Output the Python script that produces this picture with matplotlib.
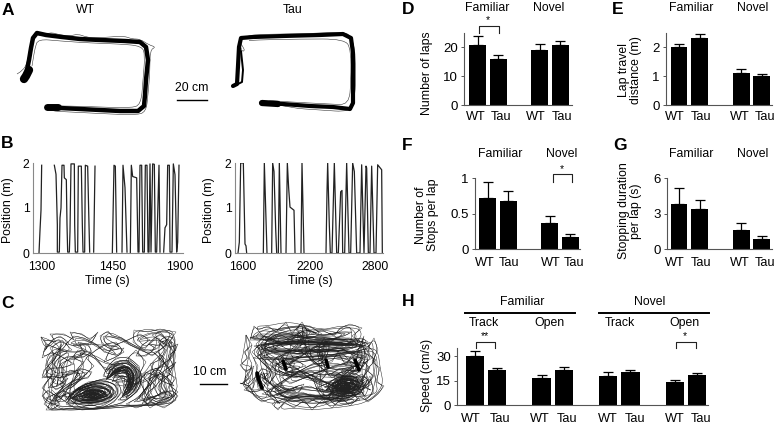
import numpy as np
import matplotlib
matplotlib.use('Agg')
import matplotlib.pyplot as plt
from matplotlib.path import Path
from matplotlib.patches import PathPatch

plt.rcParams['font.family'] = ['Liberation Sans', 'DejaVu Sans']
plt.rcParams['font.size'] = 8.8

W, H = 777, 425
GROUPS = ['WT', 'Tau', 'WT', 'Tau']

# bar values (mean, top of error bar)
laps_mean = [21, 16, 19, 21]
laps_top = [24, 17.2, 21.2, 22.2]
travel_mean = [2.03, 2.33, 1.12, 1.02]
travel_top = [2.11, 2.46, 1.25, 1.07]
stops_mean = [0.72, 0.68, 0.37, 0.17]
stops_top = [0.94, 0.81, 0.47, 0.21]
stopdur_mean = [3.83, 3.4, 1.63, 0.82]
stopdur_top = [5.13, 4.1, 2.2, 1.07]
speed_mean = [30, 21.2, 16.4, 21.2, 17.9, 20.1, 14.4, 18.3]
speed_top = [33.3, 22.8, 18.7, 23.4, 20.1, 21.6, 15.6, 19.9]

# panel B, x in thirds of a pixel along the axis, y in metres
b_wt_x = [117, 120, 123, 125, None,
          163, 168, 172, 172, 178, 180, 183, 186, 192, 193, 199, 201, 203, 208, 210, 213, 223, 224, 226, 233, 235, 244, 247, 249,
          254, 256, 263, 267, 269, None, 281, 285, None,
          337, 342, 346, 350, None, 366, 369, 375, 381, None, 391, 394, 398, 410, 414, 417, 420, 425, 428, 433, 436, 441, 444,
          447, 450, 453, 458, 463, 466, 470, 477, 480, None, 491, 495, 500, 503, 508, 510, 516, 520, 525, 530, 533, 537]
b_wt_y = [0, 0.5, 0.95, 1.95, None,
          1.95, 1.75, 0.63, 0.02, 0.02, 0.78, 1.0, 1.95, 1.95, 1.67, 1.63, 0.63, 0.02, 0.02, 0.48, 1.98, 1.98, 0.63, 0.02, 0.02, 1.93, 1.93, 0.63, 0.02,
          0.02, 1.95, 1.93, 0.63, 0.02, None, 0.02, 1.93, None,
          0, 1.95, 1.93, 0.02, None, 0.02, 1.95, 1.45, 0.02, None, 0, 1.95, 1.7, 1.67, 0.02, 0.02, 1.95, 1.95, 0.02, 0.02, 1.95, 1.95, 0.02,
          0.02, 1.98, 0.02, 1.98, 1.97, 0.02, 0.02, 1.95, 0.02, None, 0.02, 0.56, 0.63, 1.95, 1.95, 0.02, 0.02, 1.98, 1.74, 0.02, 0.24, 1.95]
b_tau_x = [714, 718, 722, 730, 735, 738, 740, None,
           790, 793, 801, None, 815, 818, 822, 827, 830, None, 835, 838, 843, None, 858, 862, 866, 870, 882, 885, None, 903, 906, 912, None,
           978, 981, 983, 988, 991, 996, 1003, 1010, 1015, 1022, 1026, 1028, 1034, 1040, 1047, 1052, 1058, 1063, 1070, 1080, 1085, 1092, 1098, 1100, 1105,
           1110, 1115, 1122, 1128, 1133, 1145, 1147]
b_tau_y = [0, 0.24, 2, 2, 0.2, 0.16, 0, None,
           0, 2, 0, None, 0, 2, 1.81, 0.54, 0, None, 0, 2, 0, None, 0, 2, 1.44, 1.02, 0.95, 0, None, 0, 2, 0, None,
           0, 1.36, 2, 0.61, 0, 0, 2, 0, 0, 1.36, 1.39, 0, 0, 2, 0, 0, 2, 1.81, 0, 0, 1.96, 0, 1.93, 1.89, 0,
           0, 1.93, 0, 0, 1.96, 1.85, 0]

# panel A tracks, image coordinates
a_wt_track = [(27, 70), (29, 60), (31, 48), (33, 38), (37, 33), (46, 35), (62, 37), (80, 39), (100, 40), (125, 41),
              (140, 42), (146, 47), (148, 60), (146, 80), (145, 95), (144, 106), (138, 111), (120, 111), (100, 110),
              (80, 109), (60, 108), (48, 107)]
a_wt_blob = [(24, 79), (26, 76), (29, 70)]
a_wt_start = [(47, 107), (58, 107)]
a_wt_hair = [(17, 74), (24, 70), (28, 60), (30, 45), (36, 29), (38, 37), (50, 32), (60, 35), (70, 36), (78, 34), (86, 37), (95, 38), (110, 37),
             (124, 36), (132, 39), (140, 39), (149, 45), (156, 47), (150, 50), (150, 70), (148, 95), (146, 112), (136, 115), (110, 114), (90, 113),
             (70, 112), (50, 111), (44, 106), (70, 106), (100, 107), (130, 108), (141, 105), (143, 80), (145, 55), (142, 46), (120, 44), (90, 43),
             (60, 41), (38, 39), (35, 48), (33, 60), (31, 72)]
a_tau_track = [(233, 86), (237, 84), (238, 66), (239, 47), (241, 38), (253, 37), (283, 36), (320, 35), (343, 34), (351, 38),
               (353, 53), (353, 87), (353, 103), (350, 109), (333, 107), (310, 106), (283, 104), (266, 103)]
a_tau_second = [(241, 51), (243, 70), (242, 82), (236, 85)]
a_tau_start = [(262, 103), (278, 104)]
a_tau_hair = [(240, 43), (246, 50), (241, 52), (240, 36), (270, 34), (300, 34), (340, 32), (352, 35), (356, 60), (355, 100), (350, 112),
              (320, 110), (290, 108), (262, 100), (290, 102), (330, 104), (349, 105), (351, 80), (351, 50), (345, 39), (300, 39), (255, 40),
              (243, 41)]

# panel C open field paths, image coordinates
c_wt_path = [(41, 337), (48, 345), (44, 352), (52, 340), (60, 336), (68, 342), (62, 350), (50, 356), (46, 365), (55, 372), (48, 380),
             (42, 388), (50, 395), (44, 404), (52, 410), (60, 404), (54, 396), (64, 390), (72, 396), (66, 404), (78, 409), (90, 404),
             (102, 408), (114, 402), (122, 392), (118, 382), (106, 378), (92, 382), (78, 388), (68, 398), (76, 404), (92, 402),
             (108, 401), (116, 392), (108, 384), (92, 384), (76, 390), (70, 398), (84, 403), (100, 402), (112, 396), (106, 388),
             (90, 386), (78, 392), (84, 400), (98, 398), (106, 392), (94, 388), (82, 393), (88, 399), (101, 396), (96, 390), (85, 394),
             (93, 400), (108, 396), (112, 388), (100, 382), (84, 384), (72, 392), (66, 400), (74, 392), (88, 382), (104, 380),
             (118, 386), (118, 396), (104, 404), (86, 406), (70, 402), (64, 394), (70, 386), (82, 378), (76, 370), (84, 362), (72, 358), (78, 350),
             (90, 352), (98, 360), (106, 372), (112, 366), (120, 361), (130, 360), (138, 368), (140, 380), (136, 390), (126, 398),
             (130, 390), (135, 380), (131, 368), (120, 364), (110, 370), (106, 380), (114, 373), (124, 367), (132, 374), (134, 384),
             (126, 394), (118, 400), (126, 400), (137, 392), (142, 380), (139, 366), (128, 357), (116, 358), (108, 366), (103, 376),
             (110, 378), (118, 370), (128, 366), (135, 376), (130, 388), (122, 396), (130, 382), (126, 372), (116, 374), (112, 382),
             (122, 378), (128, 380), (124, 388), (136, 386), (146, 372), (156, 376), (150, 364), (160, 360), (166, 350), (158, 342), (166, 336),
             (174, 338), (176, 350), (168, 356), (174, 366), (166, 372), (176, 378), (170, 386), (178, 392), (170, 400), (160, 404),
             (150, 398), (142, 404), (148, 392), (156, 386), (148, 378), (156, 368), (164, 374), (160, 386), (168, 396), (160, 398), (154, 388),
             (162, 378), (172, 374), (166, 364), (174, 352), (168, 344), (176, 332), (160, 329), (148, 332), (134, 330), (133, 342), (144, 350),
             (152, 340), (160, 334), (170, 342), (160, 350), (152, 356), (142, 350), (130, 345), (122, 338), (112, 336), (108, 331), (100, 336), (102, 344),
             (112, 350), (124, 348), (118, 356), (104, 352), (96, 344), (84, 338), (74, 336), (66, 344), (76, 346), (88, 344), (92, 352),
             (82, 358), (68, 356), (58, 362), (66, 372), (58, 380), (66, 384), (56, 390), (50, 384), (60, 372), (52, 362), (60, 352),
             (72, 350), (62, 340), (50, 348), (56, 358), (44, 370), (42, 378), (52, 376), (62, 378), (72, 374), (80, 368), (92, 372), (88, 378), (74, 380),
             (62, 388), (52, 400), (46, 410), (60, 410), (70, 408), (82, 410), (100, 409), (120, 405), (140, 406), (156, 405), (172, 403),
             (178, 396), (172, 390), (160, 394), (146, 400), (134, 402), (144, 394), (150, 384), (142, 376), (150, 370), (166, 366), (158, 356), (150, 350)]
c_wt_extra = [(44, 340), (56, 342), (50, 334), (64, 334), (74, 340), (70, 332), (82, 334), (90, 340), (98, 332), (90, 345), (78, 342), (84, 352),
              (66, 352), (56, 348), (46, 344), (42, 358), (52, 352), (64, 358), (74, 364), (62, 368), (50, 368), (44, 376), (56, 380), (48, 388),
              (58, 386), (68, 378), (60, 392), (46, 398), (56, 402), (66, 394), (60, 384), (70, 370), (80, 374), (72, 382), (66, 390), (74, 386),
              (84, 376), (94, 366), (86, 358), (96, 350), (106, 344), (116, 342), (124, 352), (114, 358), (104, 362), (112, 346), (128, 340),
              (140, 334), (150, 340), (142, 345), (136, 356), (146, 356), (156, 348), (148, 344), (162, 346), (172, 334), (164, 330), (152, 335),
              (170, 348), (178, 344), (172, 358), (160, 366), (154, 376), (164, 382), (174, 386), (168, 378), (158, 372), (148, 386), (140, 396),
              (150, 408), (162, 400), (174, 396), (166, 390), (156, 396), (148, 404), (136, 408), (126, 404), (138, 398), (146, 388), (156, 380),
              (166, 360), (158, 352), (170, 372), (176, 362), (168, 368), (160, 374), (170, 382), (176, 400), (164, 408), (150, 402), (142, 386),
              (138, 376), (146, 362), (136, 350), (126, 360), (134, 366), (142, 374), (140, 388), (132, 396), (122, 403), (110, 406), (94, 409),
              (76, 406), (62, 407), (50, 403), (42, 396), (48, 390), (58, 398), (70, 392), (78, 398), (72, 406), (60, 398), (52, 390)]
c_wt_loops = [(72, 398), (80, 390), (96, 387), (110, 390), (112, 397), (98, 401), (80, 401), (72, 398), (86, 391), (102, 390), (108, 396),
              (92, 399), (78, 396), (88, 389), (104, 392), (96, 398), (84, 397), (94, 392), (100, 395), (88, 394)]
c_wt_arc = [(107, 379), (110, 370), (118, 364), (128, 363), (135, 371), (137, 382), (130, 392), (122, 397), (128, 386), (132, 376),
            (126, 367), (116, 368), (110, 376), (114, 372), (122, 366), (130, 369), (134, 378), (127, 390)]
c_tau_path = [(246, 335), (252, 345), (244, 352), (248, 358), (240, 365), (246, 372), (254, 366), (250, 378), (242, 384), (240, 383), (250, 386), (254, 396),
              (262, 402), (272, 398), (280, 404), (270, 392), (258, 388), (256, 376), (262, 368), (270, 372), (262, 380), (268, 386), (274, 376),
              (266, 362), (256, 352), (262, 344), (272, 350), (284, 342), (296, 348), (310, 340), (324, 346), (340, 342), (350, 346), (360, 342),
              (352, 336), (362, 328), (350, 324), (340, 328), (334, 336), (322, 330), (312, 334), (300, 324), (292, 334), (286, 322),
              (276, 332), (268, 326), (258, 330), (254, 326), (250, 340), (266, 340), (282, 338), (298, 342), (316, 342), (334, 342),
              (354, 344), (366, 346), (346, 348), (326, 350), (304, 352), (284, 350), (264, 352), (254, 358), (272, 360), (294, 358),
              (316, 356), (336, 356), (356, 352), (368, 348), (374, 338), (378, 350), (372, 362), (380, 368), (376, 382), (384, 386), (378, 394),
              (368, 402), (360, 396), (350, 406), (342, 398), (332, 408), (322, 400), (312, 410), (304, 400), (294, 408), (284, 402), (278, 410),
              (272, 404), (290, 396), (310, 394), (328, 398), (348, 396), (364, 394), (352, 388), (332, 392), (316, 388), (330, 382), (346, 384),
              (360, 380), (344, 376), (328, 376), (340, 368), (356, 372), (364, 366), (350, 362), (334, 366), (318, 372), (304, 378), (290, 384), (280, 376),
              (292, 370), (306, 366), (296, 360), (284, 366), (276, 358), (288, 352), (300, 348), (304, 338), (296, 330), (302, 322), (308, 332), (304, 346),
              (310, 360), (318, 366), (326, 358), (330, 346), (324, 338), (318, 348), (322, 362), (328, 372), (320, 382), (312, 376), (318, 392), (326, 402),
              (334, 390), (340, 378), (350, 370), (362, 360), (370, 368), (362, 378), (356, 390), (364, 386), (370, 376), (374, 392), (366, 400),
              (358, 384), (346, 392), (338, 384), (348, 378), (358, 386), (352, 394), (340, 392), (332, 386), (344, 382), (352, 386), (342, 396), (330, 394),
              (336, 378), (350, 376), (360, 372), (366, 356), (362, 344), (364, 336), (358, 350), (356, 364), (352, 354), (346, 366), (338, 352),
              (332, 362), (312, 364), (298, 372), (284, 380), (274, 388), (262, 394), (276, 396), (292, 388), (304, 384), (298, 394), (284, 392),
              (270, 382), (278, 372), (270, 364), (280, 354), (290, 364), (302, 356), (312, 348), (328, 340), (344, 336), (352, 332), (338, 332),
              (320, 336), (306, 328), (294, 338), (280, 344), (268, 336), (260, 338), (274, 344), (290, 344), (308, 344), (326, 344), (342, 346),
              (356, 340), (370, 344), (368, 354), (376, 360), (366, 370), (374, 376), (368, 384), (360, 392), (350, 400), (336, 402), (320, 396),
              (306, 404), (296, 396), (286, 398), (276, 390), (266, 378), (258, 372), (264, 390), (252, 392), (244, 390), (254, 382), (258, 366), (248, 348)]
c_tau_extra = [(250, 338), (260, 334), (270, 340), (280, 334), (290, 340), (300, 336), (312, 340), (326, 338), (338, 340), (350, 340), (362, 338),
               (368, 342), (356, 346), (340, 345), (322, 343), (304, 341), (286, 342), (268, 344), (254, 346), (262, 350), (276, 352), (292, 350), (306, 354),
               (320, 352), (336, 350), (350, 352), (364, 352), (372, 358), (360, 366), (344, 358), (330, 356), (314, 360), (300, 362), (286, 358),
               (272, 368), (282, 374), (296, 378), (310, 370), (322, 376), (336, 372), (350, 380), (362, 374), (372, 384), (362, 390), (348, 390),
               (336, 394), (322, 392), (310, 386), (298, 388), (288, 392), (276, 384), (268, 396), (280, 398), (294, 402), (308, 398), (322, 404),
               (336, 398), (350, 392), (360, 400), (348, 404), (336, 406), (326, 396), (340, 388), (354, 382), (342, 378), (330, 388), (318, 384),
               (306, 376), (294, 366), (282, 370), (274, 358), (264, 358), (256, 344), (268, 332), (282, 328), (296, 326), (310, 326), (322, 334), (310, 338),
               (296, 336), (284, 332), (272, 336), (262, 346), (274, 354), (290, 354), (306, 348), (322, 354), (338, 346), (354, 356), (368, 360),
               (358, 372), (344, 370), (332, 378), (322, 368), (308, 356), (298, 350), (314, 344), (330, 352), (346, 350), (360, 346), (350, 338),
               (336, 338), (322, 340), (308, 336), (292, 344), (276, 346), (262, 342), (252, 352), (260, 360), (274, 374), (288, 376), (302, 370),
               (316, 378), (328, 384), (342, 390), (356, 394), (344, 400), (330, 400), (316, 398), (302, 392), (290, 400), (278, 394), (268, 388)]
c_tau_dense = [(326, 390), (336, 380), (350, 378), (362, 384), (358, 392), (342, 394), (330, 392), (338, 384), (352, 382), (360, 388), (348, 393),
               (334, 389), (344, 380), (358, 380), (354, 390), (340, 390), (336, 386), (350, 385), (344, 392), (332, 384), (346, 376), (362, 378), (364, 392),
               (350, 396), (334, 396), (326, 384), (340, 376), (356, 376), (360, 386), (344, 388)]
c_tau_blobs = [[(257, 373), (259, 381), (262, 388)], [(283, 361), (286, 369)], [(326, 360), (328, 367)], [(355, 360), (359, 370)]]


def ax_px(left, top, right, bottom):
    # axes placed by image pixel box
    a = fig.add_axes([left / W, 1 - bottom / H, (right - left) / W, (bottom - top) / H])
    a.patch.set_alpha(0)
    for s in ['top', 'right']:
        a.spines[s].set_visible(False)
    for s in ['left', 'bottom']:
        a.spines[s].set_linewidth(0.8)
        a.spines[s].set_color('#555555')
    a.tick_params(length=0, width=0.7, pad=2.5, color='#555555')
    return a


def bars(box, c0, step, pos, labpos, mean, top, ymax, yticks, ylabs, pad):
    a = ax_px(*box)
    lo = np.array(mean)
    hi = np.array(top)
    a.bar(pos, lo, width=0.82, color='black')
    a.errorbar(pos, lo, yerr=[np.zeros(len(lo)), hi - lo], fmt='none', ecolor='black', elinewidth=0.9, capsize=3.6, capthick=0.9)
    a.set_xlim((box[0] - c0) / step, (box[2] - c0) / step)
    a.set_ylim(0, ymax)
    a.set_yticks(yticks, ylabs)
    a.tick_params(axis='y', length=2, direction='out', pad=2.5, labelsize=9.5)
    a.set_xticks(labpos, (GROUPS * 2)[:len(pos)])
    a.tick_params(axis='x', pad=pad, labelsize=9.2)
    return a


fig = plt.figure(figsize=(W / 100, H / 100), dpi=100)
ov = fig.add_axes([0, 0, 1, 1])
ov.set_xlim(0, W)
ov.set_ylim(H, 0)
ov.axis('off')


def put(x, y, s, **kw):
    kw.setdefault('ha', 'center')
    kw.setdefault('va', 'center')
    ov.text(x, y, s, **kw)


def path(pts, **kw):
    xs, ys = zip(*pts)
    ov.plot(xs, ys, color=kw.pop('color', 'black'), solid_joinstyle='round', solid_capstyle='round', **kw)


def curve(pts, lw, color):
    # rounded version of a typed path, the typed points act as curve controls
    verts = [pts[0]]
    codes = [Path.MOVETO]
    for p, q in zip(pts[1:-1], pts[2:]):
        verts += [p, ((p[0] + q[0]) / 2, (p[1] + q[1]) / 2)]
        codes += [Path.CURVE3, Path.CURVE3]
    ov.add_patch(PathPatch(Path(verts, codes), fill=False, lw=lw, edgecolor=color))


def mesh(pts, lw=0.35, color='#222222'):
    # the path drawn rounded and straight, then its points again in wider steps to get the density
    curve(pts, lw, color)
    path(pts, lw=lw * 0.8, color=color)
    curve(pts[::2], lw, color)
    curve(pts[1::2], lw, color)
    curve(pts[::3], lw, color)


# A
curve(a_wt_hair, 0.4, '#333333')
path(a_wt_track, lw=3.2)
path(a_wt_blob, lw=6)
path(a_wt_start, lw=5)
curve(a_tau_hair, 0.4, '#333333')
path(a_tau_track, lw=3)
path(a_tau_second, lw=1.4)
path(a_tau_start, lw=4.5)
put(85, 10, 'WT')
put(293, 10, 'Tau')
put(192, 88, '20 cm')
ov.plot([177, 207], [100, 100], color='black', lw=1)

# B
ax = ax_px(33, 163, 183, 253)
ax.plot(b_wt_x, b_wt_y, color='#222222', lw=0.9)
ax.set_xlim(99, 549)
ax.set_ylim(0, 2)
ax.set_yticks([0, 1, 2])
ax.set_xticks([125, 337, 540], ['1300', '1450', '1900'])
ax.tick_params(axis='x', pad=6)
ax.spines['left'].set_color('#888888')
ax.spines['bottom'].set_color('#888888')
ax = ax_px(235, 163, 383, 253)
ax.plot(b_tau_x, b_tau_y, color='#222222', lw=0.9)
ax.set_xlim(705, 1149)
ax.set_ylim(0, 2)
ax.set_yticks([0, 1, 2])
ax.set_xticks([729, 930, 1125], ['1600', '2200', '2800'])
ax.tick_params(axis='x', pad=6)
ax.spines['left'].set_color('#888888')
ax.spines['bottom'].set_color('#888888')
put(8, 210, 'Position (m)', rotation=90)
put(209, 210, 'Position (m)', rotation=90)
put(107, 281, 'Time (s)')
put(310, 281, 'Time (s)')

# C
mesh(c_wt_path)
curve(c_wt_extra, 0.35, '#222222')
path(c_wt_extra, lw=0.3, color='#222222')
mesh(c_wt_loops, lw=0.55)
mesh(c_wt_arc, lw=0.5)
mesh(c_tau_path)
mesh(c_tau_extra)
mesh(c_tau_dense, lw=0.55)
for b in c_tau_blobs:
    path(b, lw=2.6)
put(210, 372, '10 cm')
ov.plot([200, 227], [384, 384], color='black', lw=1)

# D
bars((464, 33, 572, 105), 477.5, 20.7, [0, 1, 3, 4], [-0.1, 1.13, 2.82, 4.08], laps_mean, laps_top, 25,
     [0, 10, 20], ['0', '10', '20'], 4.5)
put(427, 73, 'Number of laps', rotation=90)
put(487, 8, 'Familiar')
put(549, 8, 'Novel')
# E
bars((666, 33, 772, 105), 679, 20.7, [0, 1, 3, 4], [-0.2, 1.07, 2.95, 4.15], travel_mean, travel_top, 2.5,
     [0, 1, 2], ['0', '1', '2'], 4.5)
put(630, 70, 'Lap travel\ndistance (m)', rotation=90, linespacing=1.0)
put(691, 8, 'Familiar')
put(753, 8, 'Novel')
# F
bars((475, 178, 580, 249), 487.5, 20.7, [0, 1, 3, 4], [-0.12, 1.03, 3.07, 4.2], stops_mean, stops_top, 1,
     [0, 0.5, 1], ['0', '0.5', '1'], 6)
put(427, 215, 'Number of\nStops per lap', rotation=90, linespacing=1.0)
put(500, 154, 'Familiar')
put(562, 154, 'Novel')
# G
bars((667, 178, 772, 249), 679, 20.7, [0, 1, 3, 4], [-0.2, 1.07, 2.95, 4.15], stopdur_mean, stopdur_top, 6,
     [0, 3, 6], ['0', '3', '6'], 6)
put(630, 211, 'Stopping duration\nper lap (s)', rotation=90, linespacing=1.0)
put(691, 154, 'Familiar')
put(753, 154, 'Novel')
# H
bars((457, 348, 708, 405), 475, 22.2, [0, 1, 3, 4, 6, 7, 9, 10],
     [-0.18, 1.13, 2.93, 4.15, 6.0, 7.2, 9.0, 10.18], speed_mean, speed_top, 35,
     [0, 15, 30], ['0', '15', '30'], 6)
put(427, 375, 'Speed (cm/s)', rotation=90)
put(522, 302, 'Familiar')
put(650, 302, 'Novel')
ov.plot([465, 575], [313, 313], color='black', lw=1.4)
ov.plot([599, 709], [313, 313], color='black', lw=1.4)
put(484, 323, 'Track')
put(549, 323, 'Open')
put(620, 323, 'Track')
put(684, 323, 'Open')

# significance brackets
for x0, x1, y0, y1, sx, sy, s in [(479, 499, 26, 33, 488, 20, '*'), (553, 572, 174, 182, 562, 169, '*'),
                                  (476, 495, 342, 348, 485, 336, '**'), (676, 696, 342, 348, 685, 336, '*')]:
    ov.plot([x0, x0, x1, x1], [y1, y0, y0, y1], color='#222222', lw=0.8)
    put(sx, sy, s, fontsize=7.5)

for x, y, s in [(8, 10, 'A'), (7, 144, 'B'), (7, 303, 'C'), (408, 9, 'D'), (618, 9, 'E'), (407, 146, 'F'), (620, 145, 'G'), (408, 302, 'H')]:
    put(x, y, s, fontsize=12.5, fontweight='bold')

fig.savefig('out.png', dpi=100)
